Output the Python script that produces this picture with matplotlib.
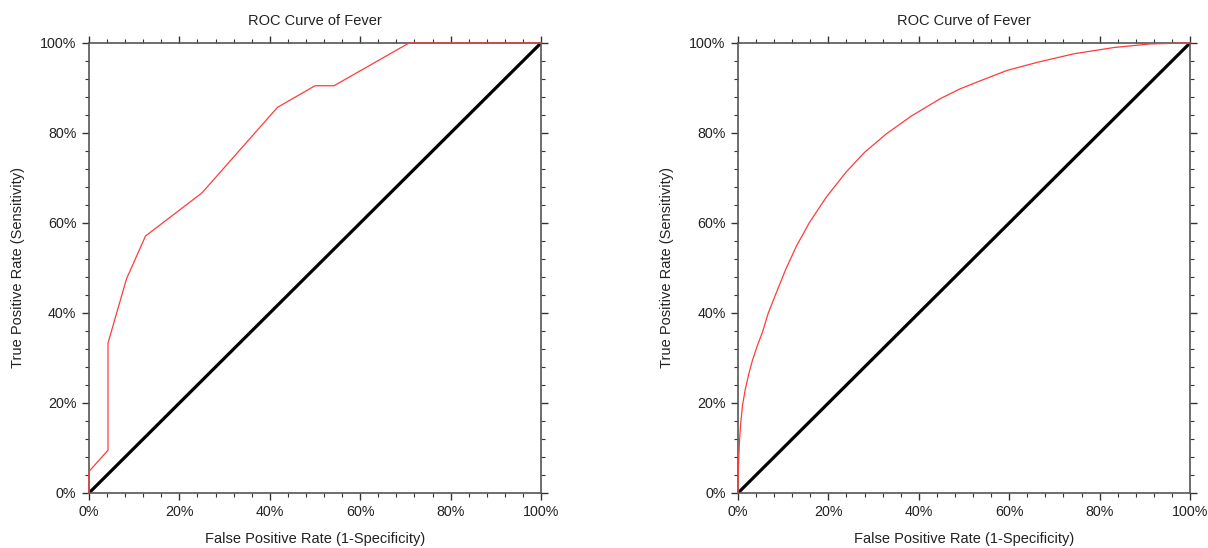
import matplotlib
matplotlib.use("Agg")
import matplotlib.pyplot as plt
from matplotlib.ticker import MultipleLocator, PercentFormatter

plt.rcParams['font.family'] = ['Liberation Sans', 'DejaVu Sans']

title = "ROC Curve of Fever"
xlabel = "False Positive Rate (1-Specificity)"
ylabel = "True Positive Rate (Sensitivity)"

# Left panel: empirical ROC (FPR %, TPR %)
left_fpr = [0, 0, 4.2, 4.2, 8.3, 12.5, 25.0, 41.7, 50.0, 54.2, 70.8, 100]
left_tpr = [0, 4.8, 9.5, 33.3, 47.6, 57.1, 66.7, 85.7, 90.5, 90.5, 100, 100]

# Right panel: smooth ROC (FPR %, TPR %)
right_fpr = [0, 0, 0.1, 0.3, 0.6, 1.0, 1.6, 2.4, 3.2, 4.3, 5.4, 6.7, 8.2, 10.6, 13.0,
             15.8, 19.5, 23.9, 28.0, 32.8, 38.4, 44.7, 49.1, 53.6, 59.5, 66.2, 74.3,
             83.2, 91.3, 100]
right_tpr = [0, 1.6, 6.0, 11.0, 15.5, 19.5, 23.0, 26.5, 29.5, 32.8, 35.7, 40.0, 43.8, 49.8, 55.0,
             60.1, 65.7, 71.3, 75.7, 79.8, 83.8, 87.6, 89.8, 91.6, 93.9, 95.7, 97.6,
             99.0, 99.8, 100]

ref_line = [0, 100]

fig = plt.figure(figsize=(12.08, 5.48), dpi=100)
W, H = 1208, 548
ax1 = fig.add_axes([89 / W, (548 - 493) / H, 452 / W, 450 / H])
ax2 = fig.add_axes([738 / W, (548 - 493) / H, 452 / W, 450 / H])

for ax, fx, ty in [(ax1, left_fpr, left_tpr), (ax2, right_fpr, right_tpr)]:
    ax.plot(ref_line, ref_line, color='black', lw=2.3, solid_capstyle='butt', zorder=2)
    ax.plot(fx, ty, color='#ff3b3b', lw=0.9, zorder=3, clip_on=False)
    ax.set_xlim(0, 100)
    ax.set_ylim(0, 100)
    ax.xaxis.set_major_locator(MultipleLocator(20))
    ax.xaxis.set_minor_locator(MultipleLocator(4))
    ax.yaxis.set_major_locator(MultipleLocator(20))
    ax.yaxis.set_minor_locator(MultipleLocator(4))
    ax.xaxis.set_major_formatter(PercentFormatter(decimals=0))
    ax.yaxis.set_major_formatter(PercentFormatter(decimals=0))
    ax.tick_params(which='both', direction='out', top=True, right=True,
                   color='#333333', labelcolor='#222222', labelsize=10.3)
    ax.tick_params(which='major', length=5, width=1.0, pad=4)
    ax.tick_params(which='minor', length=3, width=0.8)
    for sp in ax.spines.values():
        sp.set_color('#555555')
        sp.set_linewidth(1.2)
    ax.set_title(title, fontsize=10.5, color='#222222', pad=13)
    ax.set_xlabel(xlabel, fontsize=10.5, color='#222222', labelpad=9)
    ax.set_ylabel(ylabel, fontsize=10.5, color='#222222', labelpad=11)

fig.savefig("out.png", dpi=100)
